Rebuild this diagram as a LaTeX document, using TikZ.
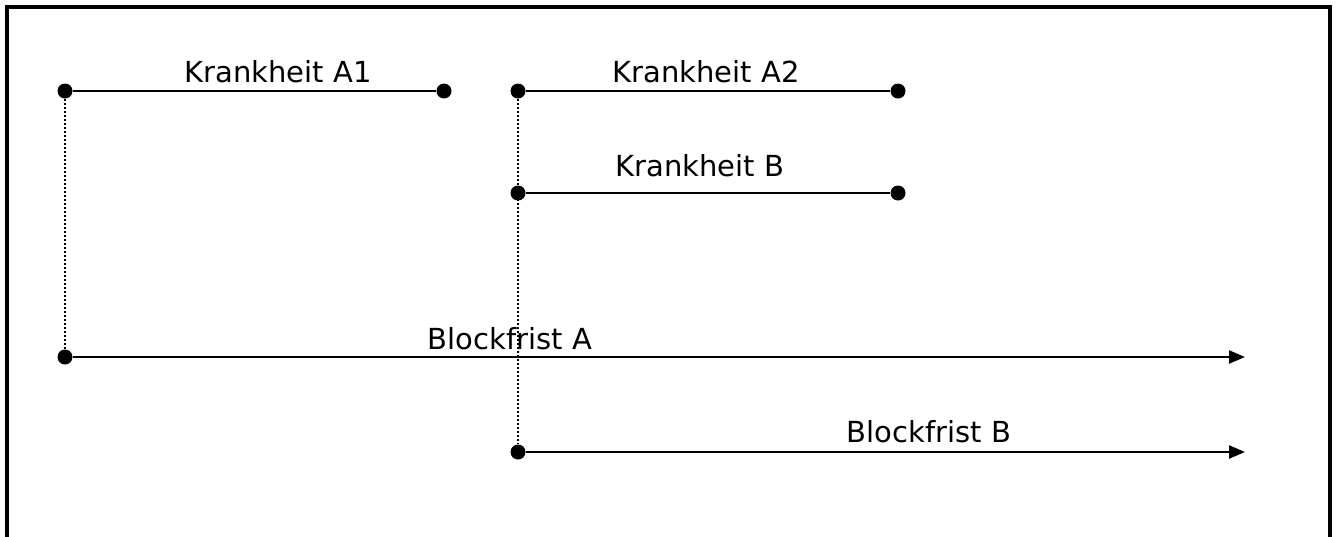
\documentclass[tikz,border=0pt]{standalone}
\usepackage{fontspec}
\setmainfont{DejaVu Sans}
\usetikzlibrary{arrows.meta}
\begin{document}
\begin{tikzpicture}[x=1pt,y=-1pt,
  dotpt/.style={circle,fill=black,inner sep=0pt,minimum size=15pt},
  bar/.style={line width=2.4pt},
  guide/.style={line width=2pt,dash pattern=on 2pt off 2pt},
  arr/.style={line width=2.4pt,-{Triangle[length=16pt,width=13pt]}},
  lbl/.style={anchor=base,font=\fontsize{29}{32}\selectfont,inner sep=0pt}]
\useasboundingbox (0,0) rectangle (1339,536);
\begin{scope}
\clip (0,0) rectangle (1339,536);
\draw[line width=4pt] (7,7) rectangle (1330,560);
\end{scope}
% points
\node[dotpt] (a1s) at (65,91) {};
\node[dotpt] (a1e) at (444,91) {};
\node[dotpt] (a2s) at (518,91) {};
\node[dotpt] (a2e) at (898,91) {};
\node[dotpt] (bs) at (518,193) {};
\node[dotpt] (be) at (898,193) {};
\node[dotpt] (bas) at (65,357) {};
\node[dotpt] (bbs) at (518,452) {};
\coordinate (bae) at (1245,357);
\coordinate (bbe) at (1245,452);
% guides
\draw[guide] (a1s) -- (bas);
\draw[guide] (a2s) -- (bbs);
% bars
\draw[bar] (a1s) -- (a1e);
\draw[bar] (a2s) -- (a2e);
\draw[bar] (bs) -- (be);
\draw[arr] (bas) -- (bae);
\draw[arr] (bbs) -- (bbe);
% labels
\node[lbl] (la1) at (278,82) {Krankheit A1};
\node[lbl] (la2) at (706,82) {Krankheit A2};
\node[lbl] (lb) at (700,176) {Krankheit B};
\node[lbl] (lba) at (510,349) {Blockfrist A};
\node[lbl] (lbb) at (929,442) {Blockfrist B};
\end{tikzpicture}
\end{document}
